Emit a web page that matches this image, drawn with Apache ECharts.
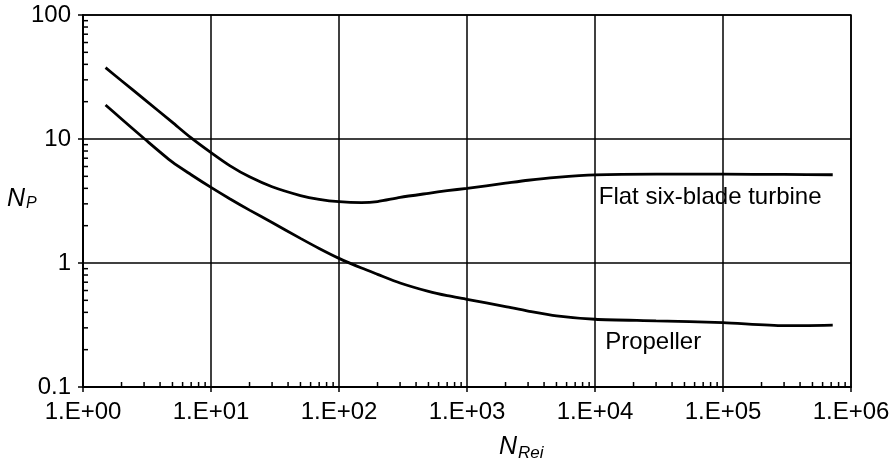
<!DOCTYPE html>
<html>
<head>
<meta charset="utf-8">
<script src="https://cdn.jsdelivr.net/npm/echarts@6/dist/echarts.min.js"></script>
<style>
html,body{margin:0;padding:0;background:#fff;}
#chart{width:894px;height:461px;}
</style>
</head>
<body>
<div id="chart"></div>
<script>
// Reynolds numbers (x) shared by both curves
var reValues = [1.5, 2, 3, 5, 7, 10, 14, 20, 30, 50, 70, 100, 150, 200, 300, 500, 700, 1000, 2000, 3000, 5000, 10000, 30000, 100000, 300000, 720000];
// Power number, flat six-blade turbine
var turbineNp = [37.6, 29.5, 21.0, 13.6, 10.2, 7.76, 6.1, 4.95, 4.12, 3.5, 3.26, 3.12, 3.07, 3.13, 3.38, 3.65, 3.83, 4.0, 4.4, 4.65, 4.9, 5.13, 5.2, 5.2, 5.18, 5.15];
// Power number, propeller
var propellerNp = [18.8, 14.5, 10.1, 6.5, 5.15, 4.07, 3.3, 2.67, 2.12, 1.58, 1.31, 1.09, 0.91, 0.81, 0.69, 0.59, 0.545, 0.51, 0.445, 0.41, 0.375, 0.352, 0.342, 0.33, 0.312, 0.316];

var xTickLabels = ['1.E+00', '1.E+01', '1.E+02', '1.E+03', '1.E+04', '1.E+05', '1.E+06'];
var yTickLabels = ['0.1', '1', '10', '100'];
var xDecades = [1, 10, 100, 1000, 10000, 100000];
var yDecades = [0.1, 1, 10];
var minorFactors = [2, 3, 4, 5, 6, 7, 8, 9];

var seriesNames = ['Flat six-blade turbine', 'Propeller'];
var labelAnchors = [[10700, 3.4], [12000, 0.23]];

function pairs(xs, ys) { return xs.map(function (x, i) { return [x, ys[i]]; }); }

var minorData = [];
xDecades.forEach(function (d) { minorFactors.forEach(function (f) { minorData.push([d * f, 0.1, 0]); }); });
yDecades.forEach(function (d) { minorFactors.forEach(function (f) { minorData.push([1, d * f, 1]); }); });

var FONT = '"Liberation Sans", Arial, sans-serif';
var chart = echarts.init(document.getElementById('chart'), null, {renderer: 'canvas'});

function lineSeries(name, ys, anchor) {
  return {
    name: name,
    type: 'line',
    data: pairs(reValues, ys),
    smooth: 0.25,
    showSymbol: false,
    symbol: 'none',
    lineStyle: {color: '#000', width: 2.8},
    z: 5,
    markPoint: {
      symbol: 'circle',
      symbolSize: 0,
      silent: true,
      data: [{coord: anchor, value: name}],
      label: {
        show: true, position: 'right', distance: 0,
        formatter: name, color: '#000', fontSize: 24, fontFamily: FONT
      }
    }
  };
}

var option = {
  backgroundColor: '#fff',
  animation: false,
  grid: {left: 83, right: 43, top: 15, bottom: 74, show: true, borderColor: '#000', borderWidth: 1.5, containLabel: false},
  xAxis: {
    type: 'log', logBase: 10, min: 1, max: 1000000, splitNumber: 6,
    axisLine: {show: true, lineStyle: {color: '#000', width: 2}},
    axisTick: {show: true, inside: false, length: 5, lineStyle: {color: '#000', width: 1.5}},
    axisLabel: {
      margin: 13, color: '#000', fontSize: 24, fontFamily: FONT,
      formatter: function (v) { return xTickLabels[Math.round(Math.log10(v))]; }
    },
    splitLine: {show: true, lineStyle: {color: '#000', width: 1.5}}
  },
  yAxis: {
    type: 'log', logBase: 10, min: 0.1, max: 100, splitNumber: 3,
    axisLine: {show: true, lineStyle: {color: '#000', width: 2}},
    axisTick: {show: true, inside: false, length: 5, lineStyle: {color: '#000', width: 1.5}},
    axisLabel: {
      margin: 12, color: '#000', fontSize: 24, fontFamily: FONT,
      formatter: function (v) { return yTickLabels[Math.round(Math.log10(v)) + 1]; }
    },
    splitLine: {show: true, lineStyle: {color: '#000', width: 1.5}}
  },
  graphic: [
    {type: 'text', left: 7, top: 187, style: {text: 'N', font: 'italic 25px ' + FONT, fill: '#000'}},
    {type: 'text', left: 26, top: 196, style: {text: 'P', font: 'italic 16px ' + FONT, fill: '#000'}},
    {type: 'text', left: 499, top: 435, style: {text: 'N', font: 'italic 25px ' + FONT, fill: '#000'}},
    {type: 'text', left: 518, top: 445, style: {text: 'Rei', font: 'italic 17px ' + FONT, fill: '#000'}}
  ],
  series: [
    lineSeries(seriesNames[0], turbineNp, labelAnchors[0]),
    lineSeries(seriesNames[1], propellerNp, labelAnchors[1]),
    {
      type: 'custom',
      silent: true,
      z: 6,
      data: minorData,
      renderItem: function (params, api) {
        var p = api.coord([api.value(0), api.value(1)]);
        var horiz = api.value(2) === 0;
        return {
          type: 'line',
          shape: horiz ? {x1: p[0], y1: p[1], x2: p[0], y2: p[1] - 5} : {x1: p[0], y1: p[1], x2: p[0] + 5, y2: p[1]},
          style: {stroke: '#000', lineWidth: 1.5}
        };
      }
    }
  ]
};
chart.setOption(option);
</script>
</body>
</html>
